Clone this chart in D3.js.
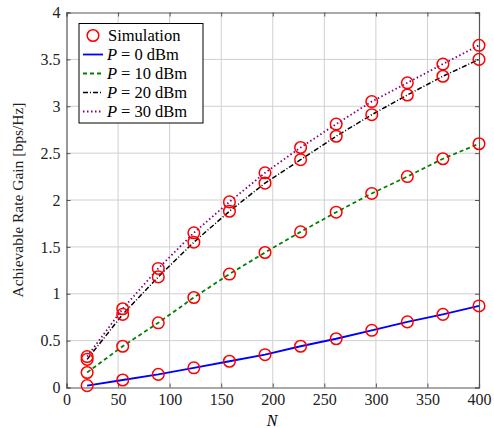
<!DOCTYPE html>
<html>
<head>
<meta charset="utf-8">
<script src="https://cdn.jsdelivr.net/npm/d3@7"></script>
<style>
  body { margin: 0; background: #fff; }
  svg text { font-family: "Liberation Serif", "DejaVu Serif", serif; }
</style>
</head>
<body>
<svg id="chart" width="494" height="428"></svg>
<script>
// data
const nValues = [20, 54.5, 89, 123.5, 158, 192.5, 227, 261.5, 296, 330.5, 365, 400];
const p0 = [0.02, 0.08, 0.14, 0.21, 0.28, 0.35, 0.44, 0.52, 0.61, 0.70, 0.78, 0.87];
const p10 = [0.16, 0.44, 0.69, 0.96, 1.21, 1.44, 1.66, 1.87, 2.07, 2.25, 2.44, 2.60];
const p20 = [0.30, 0.78, 1.18, 1.55, 1.88, 2.18, 2.43, 2.68, 2.91, 3.12, 3.32, 3.50];
const p30 = [0.33, 0.84, 1.27, 1.65, 1.98, 2.29, 2.56, 2.81, 3.05, 3.25, 3.45, 3.65];
const xTicks = [0, 50, 100, 150, 200, 250, 300, 350, 400];
const yTicks = [0, 0.5, 1, 1.5, 2, 2.5, 3, 3.5, 4];

const series = [
  { name: '0', values: p0, color: '#0000ff', dash: null, width: 1.8 },
  { name: '10', values: p10, color: '#008000', dash: '4,3', width: 1.8 },
  { name: '20', values: p20, color: '#000000', dash: '5,2,1,2', width: 1.5 },
  { name: '30', values: p30, color: '#800080', dash: '1.5,2.5', width: 1.8 }
];

const margin = { top: 12.5, right: 15, bottom: 40.5, left: 66.5 };
const width = 494 - margin.left - margin.right;
const height = 428 - margin.top - margin.bottom;

const svg = d3.select('#chart');
const g = svg.append('g').attr('transform', `translate(${margin.left},${margin.top})`);

const x = d3.scaleLinear().domain([0, 400]).range([0, width]);
const y = d3.scaleLinear().domain([0, 4]).range([height, 0]);

// grid
g.append('g').selectAll('line').data(xTicks.slice(1, -1)).enter().append('line')
  .attr('x1', d => x(d)).attr('x2', d => x(d)).attr('y1', 0).attr('y2', height)
  .attr('stroke', '#d0d0d0').attr('stroke-width', 1);
g.append('g').selectAll('line').data(yTicks.slice(1, -1)).enter().append('line')
  .attr('y1', d => y(d)).attr('y2', d => y(d)).attr('x1', 0).attr('x2', width)
  .attr('stroke', '#d0d0d0').attr('stroke-width', 1);

// axes, ticks inside
g.append('g').attr('transform', `translate(0,${height})`)
  .call(d3.axisBottom(x).tickValues(xTicks).tickSize(-4).tickPadding(6).tickFormat(d3.format('d')));
g.append('g')
  .call(d3.axisLeft(y).tickValues(yTicks).tickSize(-4).tickPadding(6).tickFormat(d => d));
g.append('g').call(d3.axisTop(x).tickValues(xTicks).tickSize(-4).tickFormat(''));
g.append('g').attr('transform', `translate(${width},0)`)
  .call(d3.axisRight(y).tickValues(yTicks).tickSize(-4).tickFormat(''));

g.selectAll('.domain').attr('stroke', '#555').attr('stroke-width', 1.2);
g.selectAll('.tick line').attr('stroke', '#555');
g.selectAll('.tick text').attr('font-size', 16).attr('fill', '#222')
  .style('font-family', '"Liberation Serif", serif');

// lines
const line = d3.line().x((d, i) => x(nValues[i])).y(d => y(d));
series.forEach(s => {
  g.append('path').datum(s.values)
    .attr('fill', 'none')
    .attr('stroke', s.color)
    .attr('stroke-width', s.width)
    .attr('stroke-dasharray', s.dash)
    .attr('d', line);
});

// simulation markers
series.forEach(s => {
  g.append('g').selectAll('circle').data(s.values).enter().append('circle')
    .attr('cx', (d, i) => x(nValues[i]))
    .attr('cy', d => y(d))
    .attr('r', 5.8)
    .attr('fill', 'none')
    .attr('stroke', '#ff0000')
    .attr('stroke-width', 1.5);
});

// axis labels
svg.append('text')
  .attr('x', 272).attr('y', 426)
  .attr('text-anchor', 'middle')
  .attr('font-size', 16).attr('font-style', 'italic')
  .text('N');

svg.append('text')
  .attr('transform', 'translate(23,200) rotate(-90)')
  .attr('text-anchor', 'middle')
  .attr('font-size', 15.5)
  .attr('fill', '#222')
  .text('Achievable Rate Gain [bps/Hz]');

// legend
const legend = svg.append('g').attr('transform', 'translate(79,23.5)');
legend.append('rect')
  .attr('width', 124).attr('height', 99.5)
  .attr('fill', '#fff').attr('stroke', '#000').attr('stroke-width', 1);

const rowY = i => 12 + i * 19;
legend.append('circle')
  .attr('cx', 14).attr('cy', rowY(0)).attr('r', 5.8)
  .attr('fill', 'none').attr('stroke', '#ff0000').attr('stroke-width', 1.5);
legend.append('text')
  .attr('x', 29).attr('y', rowY(0) + 5)
  .attr('font-size', 16.5).text('Simulation');

series.forEach((s, i) => {
  const ry = rowY(i + 1);
  legend.append('line')
    .attr('x1', 4).attr('x2', 24).attr('y1', ry).attr('y2', ry)
    .attr('stroke', s.color).attr('stroke-width', s.width)
    .attr('stroke-dasharray', s.dash);
  const t = legend.append('text').attr('x', 28).attr('y', ry + 5).attr('font-size', 16.5);
  t.append('tspan').attr('font-style', 'italic').text('P');
  t.append('tspan').attr('dx', 4).text('=');
  t.append('tspan').attr('dx', 4).text(s.name);
  t.append('tspan').attr('dx', 4).text('dBm');
});
</script>
</body>
</html>
